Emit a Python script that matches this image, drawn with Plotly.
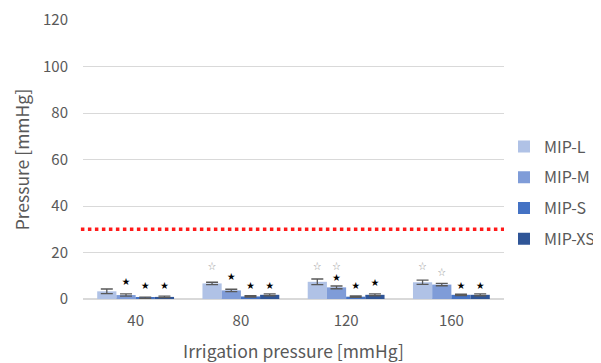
import plotly.graph_objects as go

categories = ["40", "80", "120", "160"]
series_names = ["MIP-L", "MIP-M", "MIP-S", "MIP-XS"]
values = {
    "MIP-L": [3.3, 6.7, 7.4, 7.2],
    "MIP-M": [1.7, 3.7, 5.0, 6.2],
    "MIP-S": [0.5, 1.1, 1.0, 1.8],
    "MIP-XS": [0.9, 1.8, 1.8, 1.8],
}
errors = {
    "MIP-L": [1.0, 0.5, 1.2, 0.9],
    "MIP-M": [0.5, 0.5, 0.6, 0.5],
    "MIP-S": [0.3, 0.3, 0.3, 0.3],
    "MIP-XS": [0.3, 0.4, 0.4, 0.4],
}
colors = {
    "MIP-L": "#b0c2e6",
    "MIP-M": "#7f9cd8",
    "MIP-S": "#4472c4",
    "MIP-XS": "#2f5597",
}
# significance markers (filled = black star, open = grey star): y positions
filled_star_y = {
    "MIP-L": [None, None, None, None],
    "MIP-M": [7.4, 9.6, 9.0, None],
    "MIP-S": [5.4, 5.4, 5.4, 5.4],
    "MIP-XS": [5.4, 5.4, 6.9, 5.4],
}
open_star_y = {
    "MIP-L": [None, 13.6, 13.6, 13.6],
    "MIP-M": [None, None, 13.8, 11.2],
    "MIP-S": [None, None, None, None],
    "MIP-XS": [None, None, None, None],
}
threshold = 30

fig = go.Figure()
for s in series_names:
    fig.add_trace(go.Bar(
        x=categories, y=values[s], name=s, offsetgroup=s, legendgroup=s,
        marker=dict(color=colors[s], line=dict(width=0)),
        error_y=dict(type="data", array=errors[s], color="#595959", thickness=1.3, width=6),
    ))
for s in series_names:
    fy = filled_star_y[s]
    fig.add_trace(go.Scatter(
        x=[c for c, v in zip(categories, fy) if v is not None],
        y=[v for v in fy if v is not None],
        mode="text", text="★", textfont=dict(size=8, color="#000000"),
        offsetgroup=s, showlegend=False, hoverinfo="skip",
    ))
    oy = open_star_y[s]
    fig.add_trace(go.Scatter(
        x=[c for c, v in zip(categories, oy) if v is not None],
        y=[v for v in oy if v is not None],
        mode="text", text="☆", textfont=dict(size=8, color="#9a9a9a"),
        offsetgroup=s, showlegend=False, hoverinfo="skip",
    ))

fig.add_shape(type="line", xref="paper", yref="y", x0=-0.005, x1=1.015,
              y0=threshold, y1=threshold,
              line=dict(color="#ff1a1a", width=3.5, dash="dot"))

font_family = "Noto Sans CJK JP, Noto Sans, sans-serif"
fig.update_layout(
    width=593, height=355,
    margin=dict(l=75, r=97, t=12, b=64, autoexpand=False),
    paper_bgcolor="white", plot_bgcolor="white",
    barmode="group", bargap=0.27, bargroupgap=0,
    scattermode="group", scattergap=0.27,
    font=dict(family=font_family, color="#595959", size=15),
    legend=dict(x=1.0, y=0.38, xanchor="left", yanchor="middle",
                font=dict(size=16, color="#595959"), tracegroupgap=7,
                itemwidth=30),
    showlegend=True,
    xaxis=dict(
        type="category", showgrid=False, showline=True, linecolor="#d9d9d9",
        ticks="", tickfont=dict(size=15, color="#595959"), automargin=False,
        ticklabelstandoff=8,
        title=dict(text="Irrigation pressure [mmHg]", font=dict(size=17.5, color="#595959"), standoff=16),
    ),
    yaxis=dict(
        range=[0, 120], dtick=20, showgrid=True, gridcolor="#d9d9d9", gridwidth=1,
        zeroline=True, zerolinecolor="#d9d9d9", automargin=False,
        ticklabelstandoff=14, tickfont=dict(size=15, color="#595959"),
        title=dict(text="Pressure [mmHg]", font=dict(size=17.5, color="#595959"), standoff=8),
    ),
)

fig.write_html("out.html")
